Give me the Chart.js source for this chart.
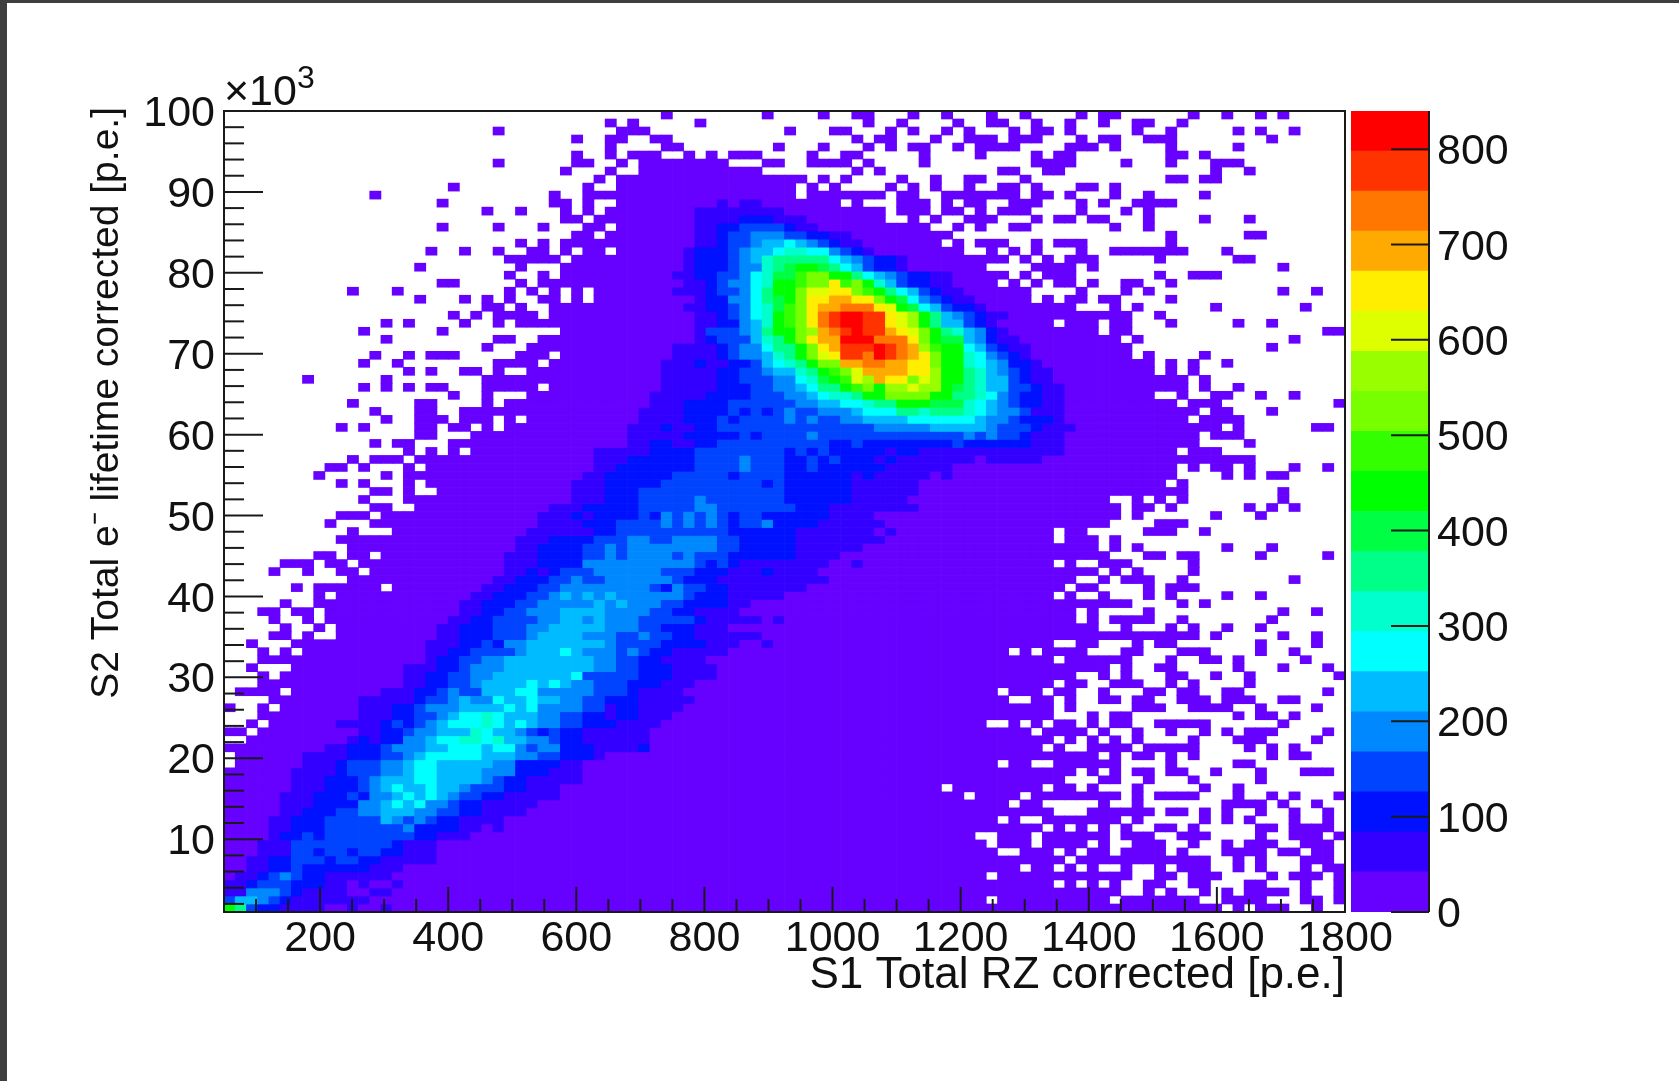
<!DOCTYPE html>
<html>
<head>
<meta charset="utf-8">
<title>S2 vs S1</title>
<script src="https://cdn.jsdelivr.net/npm/chart.js@4/dist/chart.umd.min.js"></script>
<style>
  html, body { margin: 0; padding: 0; width: 1679px; height: 1081px; overflow: hidden; background: #3f3f3f; }
  #papel { position: absolute; left: 7px; top: 3px; right: 0; bottom: 0; background: #fff; }
  .quadro { position: absolute; left: 0; top: 0; width: 1679px; height: 1081px; filter: blur(0.5px); }
</style>
</head>
<body>
<div id="papel"></div>
<div class="quadro"><canvas id="mapa"></canvas></div>
<div class="quadro"><canvas id="escala"></canvas></div>
<script>
// histogram axes
var xRange = [50, 1800];
var yRange = [1000, 100000];
var zRange = [0, 840];
var nBins = 100;

var xTicks = [200, 400, 600, 800, 1000, 1200, 1400, 1600, 1800];
var xMinorTicks = [100, 150, 250, 300, 350, 450, 500, 550, 650, 700, 750, 850, 900, 950, 1050, 1100, 1150, 1250, 1300, 1350, 1450, 1500, 1550, 1650, 1700, 1750];
var yTicks = [10000, 20000, 30000, 40000, 50000, 60000, 70000, 80000, 90000, 100000];
var yMinorTicks = [2000, 4000, 6000, 8000, 12000, 14000, 16000, 18000, 22000, 24000, 26000, 28000, 32000, 34000, 36000, 38000, 42000, 44000, 46000, 48000, 52000, 54000, 56000, 58000, 62000, 64000, 66000, 68000, 72000, 74000, 76000, 78000, 82000, 84000, 86000, 88000, 92000, 94000, 96000, 98000];
var zTicks = [0, 100, 200, 300, 400, 500, 600, 700, 800];

// colour bands, bottom of the palette first
var bandColors = ["#6600ff", "#3300ff", "#0011ff", "#0044ff", "#0088ff", "#00bbff", "#00ffff", "#00ffcc", "#00ff88", "#00ff44",
  "#00ff00", "#33ff00", "#77ff00", "#99ff00", "#ddff00", "#ffee00", "#ffaa00", "#ff7700", "#ff3300", "#ff0000"];

// one string per row of bins, top row first. "a-b" or "a" are x bins in band 0,
// "a:xyz" gives the bands (base 36) of the bins starting at a. Missing bins are empty.
var binRows = [
"39 48 53 56-57 61 64 68 71 76 78-79 86 89 92 94",
"34 36 42 57 60 65 68-69 72 75 78 81-82 85",
"24 35-37 50 54-55 59 61 64 66 70 72-73 75 81 84 90 92 95",
"31 34-35 38-39 56 58-59 63 66-68 70-72 76 78-79 82-84 93",
"34 39-40 49 53 57 59 61-62 65 67-70 75-77 79 84 90",
"31 34 36-38 41 43 45-47 52 55-56 62 67 72 74-75 84-85 87",
"24 31-32 35 37-44 48-49 52-55 57 62 72-75 80 84 88-90",
"30 34 37-47 56 58 69-70 73-74 88 91",
"33 35-51 53 55 60 63 66-67 71 84-85 87-88",
"20 32 35-50 52 54 59 61 63 66 69-70 72 76-77 79",
"13 29 32-50 52-58 60-61 64-70 72-73 75 79 82 87",
"19 29-30 32 35-43 44:1 45 46:11 48-54 56 60-62 64 66-67 70-72 76 78 81-84",
"23 26 30 32 34-41 42:11111111 50-58 60-62 64-65 67 69-71 76 80 82",
"30-31 33-41 42:1111 46:222 49:111 52-58 61 63 66-68 72 74-75 77-78 82 87 91",
"19 24 28 32-33 35-41 42:11 44:22 46:3333 50:2 51:11 53-62 65 67 70-71 79 82",
"31-32 34-41 42:11 44:2 45:33 47:444 50:33 52:22 54:11 56-64 84 91-92",
"26 28 30-41 42:11 44:2 45:33 47:4 48:55 50:6 51:5 52:4 53:3 54:2 55:11 57-63 65 67-69 72 74-76 84",
"18 21 24 27-28 30 32-33 35-40 41:1 42:222 45:3 46:4 47:55 49:6 50:77 52:66 54:4 55:3 56:2 57:1 58-65 68 70 72 76 79-85 89",
"25-29 31-40 41:1 42:222 45:3 46:4 47:5 48:7 49:88888 54:6 55:5 56:4 57:3 58:22 60:1 61-69 71 73 75-77 83 90-91",
"17 26 30-40 41:1 42:222 45:3 46:44 48:7 49:8 50:9 51:aa 53:9 54:8 55:6 56:5 57:3 58:22 60:1 61-67 72-75 77 94",
"25 28 30-39 40:11 42:22 44:33 46:4 47:6 48:7 49:99 51:b 52:cc 54:aa 56:8 57:6 58:5 59:4 60:3 61:22 63:11 65-69 71 73-75 83 86-88",
"19-20 26 28-40 41:11 43:2 44:3 45:44 47:6 48:7 49:aa 51:b 52:cc 54:f 55:b 56:c 57:a 58:7 59:5 60:3 61:22 63:11 65-68 70 72 74-75 77 80-81 84",
"11 15 25 27 29 31 33-39 40:111 43:2 44:3 45:3 46:4 47:6 48:8 49:aa 51:c 52:ee 54:ff 56:c 57:b 58:a 59:8 60:6 61:5 62:3 63:2 64:11 66-71 76 80 82 94 97",
"17 21 23 25 28-29 31 33-41 42:1 43:22 45:44 47:6 48:8 49:9 50:a 51:c 52:ff 54:gg 56:ff 58:c 59:a 60:9 61:6 62:4 63:3 64:2 65:11 67-71 73 75-76 78-79 84",
"23-24 26 29-40 41:11 43:22 45:3 46:4 47:6 48:7 49:9 50:b 51:c 52:f 53:gg 55:hhh 58:f 59:e 60:a 61:9 62:6 63:5 64:3 65:22 67:1 68-75 79 81 88 96",
"20 22 24-27 29-41 42:11 44:2 45:3 46:4 47:6 48:7 49:a 50:b 51:c 52:f 53:h 54:i 55:jj 57:ii 59:f 60:e 61:d 62:a 63:8 64:5 65:4 66:3 67:2 68:11 70-80 83",
"14 16 21 24 26-41 42:11 44:22 46:4 47:5 48:7 49:a 50:b 51:c 52:f 53:h 54:i 55:jj 57:ii 59:f 60:e 61:d 62:a 63:8 64:55 66:3 67:2 68:1 69-73 75-77 79-80 84 90 93",
"12 19 30-41 42:1 43:33 45:3 46:4 47:5 48:8 49:aa 51:c 52:d 53:g 54:h 55:i 56:j 57:ii 59:g 60:f 61:e 62:c 63:a 64:8 65:7 66:5 67:4 68:2 69:1 70-77 79-80 98-99",
"14 24-25 28-41 42:1 43:2 44:3 45:33 47:5 48:7 49:8 50:a 51:c 52:f 53:gg 55:jjj 58:hhh 61:f 62:c 63:a 64:99 66:5 67:4 68:2 69:11 71-79 81 95",
"23 27-39 40:111 43:1 44:2 45:3 46:44 48:6 49:88 51:a 52:c 53:f 54:g 55:iii 58:j 59:i 60:h 61:g 62:d 63:b 64:aa 66:6 67:5 68:3 69:2 70:11 72-80 93",
"13 16 18-20 26-28 30-39 40:111 43:1 44:2 45:3 46:44 48:5 49:7 50:8 51:a 52:c 53:e 54:f 55:ii 57:h 58:j 59:i 60:h 61:g 62:f 63:c 64:aa 66:7 67:6 68:4 69:3 70:2 71:1 72-80 82 87",
"12 15 24-27 29-38 39:111 42:2 43:11 45:22 47:3 48:5 49:6 50:7 51:8 52:a 53:cc 55:gg 57:hh 59:gg 61:ff 63:c 64:aa 66:7 67:6 68:5 69:4 70:22 72:1 73-82 84 86 89",
"16 18 21-22 24 27-38 39:11111 44:22 46:33 48:4 49:55 51:7 52:8 53:a 54:b 55:c 56:e 57:gggg 61:ff 63:d 64:aa 66:8 67:7 68:5 69:4 70:3 71:2 72:11 74-82 84 86",
"7 14 23-38 39:11111 44:22 46:333 49:44 51:6 52:7 53:9 54:a 55:b 56:e 57:d 58:g 59:ff 61:c 62:e 63:d 64:aa 66:8 67:7 68:55 70:3 71:2 72:11 74-85 87",
"12 14 16 18-19 23-27 29-38 39:11111 44:222 47:33 49:44 51:5 52:6 53:88 55:a 56:b 57:c 58:a 59:dd 61:e 62:dd 64:a 65:9 66:8 67:7 68:55 70:33 72:2 73:11 75-85 87 90",
"20 23 27-37 38:11111 43:222 46:2 47:33 49:3 50:44 52:5 53:6 54:77 56:8 57:aa 59:cccc 63:aa 65:88 67:7 68:6 69:4 70:3 71:22 73:11 75-82 85 88-89 92 95",
"11 17-18 23 25-37 38:111 41:2222 45:33333 50:3 51:44 53:55 55:66 57:7 58:88 60:aaa 63:999 66:7 67:6 68:5 69:4 70:3 71:22 73:11 75-84 86-88 99",
"13 17-18 21-36 37:1111 41:2222 45:3 46:2 47:3 48:2 49:3 50:4 51:33 53:444 56:5 57:666 60:88 62:7 63:888 66:7 67:6 68:5 69:44 71:3 72:111 75-86 88-89 93",
"14 17-19 21-23 25 27-36 37:1111 41:222 44:3 45:2 46:3333 50:4 51:3 52:4 53:33 55:44 57:5555 61:666666 67:5 68:44 70:3 71:222 74:1 75-85 87-90",
"10 12 17-18 20-21 23 25-35 36:111 39:2 40:11 42:22 44:33333333333333 58:44444 63:55555 68:4 69:333 72:2 73:111 76-88 90 97-98",
"17-18 22-35 36:11111 41:2 42:2222 46:3 47:2 48:3333 52:4 53:3333333333333 66:4 67:3 68:4 69:33 71:2 72:111 75-86 88-90",
"13 15-16 20-35 36:11 38:22 40:11 42:22 44:3333333333 54:22 56:3 57:22222222 65:3 66:222222 72:111 75-86 91",
"16 18 20 22-32 33:11111 38:2222 42:33333333 50:2 51:3 52:2 53:3 54:22222 59:1 60:22 62:1111111111111 75-84 86-88",
"11 13-15 17-32 33:111 36:222222 42:3333 46:4 47:333 50:22 52:3 53:2 54:3 55:222 58:1 59:2 60:1111111 67 68:11111 73-91",
"9-10 12 16 18-32 33:11 35:2222222 42:3333 46:4 47:333 50:22 52:3 53:222222 59:111111 65-84 86 88-89 91 95 98",
"8 14 16-31 32:11 34:222222 40:33333 45:2 46:3333 50:2222 54:22 56:1 57:2 58:11111 63 64:1 65-84 89 91 93-94",
"10 12 16 18-30 31:111 34:22222 39:333333333 48:2 49:3 50:222222 56:111111 62-83 85",
"13-14 16 19-30 31:111 34:222 37:3333333333333 50:222222 56:111111 62-85 94",
"12 16-30 31:111 34:222 37:33333 42:4 43:3333333 50:222222 56:11111 61-78 81 83 85 94",
"13-14 17-28 29:111 32:22222 37:33333 42:44 44:3333 48:333 51:222 54:11111111 62-79 81-82 84 91 93 95",
"10-12 14-27 28:111 31:2 32:1 33:2222 37:3 38:2 39:4 40:3 41:4 42:3 43:4 44:3 45:2 46:33 48:222222 54:1111 58-79 81 88 92",
"9 13-27 28:1111 32:222 35:3333 39:4 40:3 41:4 42:3 43:4 44:3 45:2 46:33 48:4 49:2222 53:111111 59-78 83-85",
"11 15-26 27:111111 33:22 35:3333333333 45:222222 51:1111111 58 59:1 60-73 75-76 82-84 87",
"10-25 26:111 29:2222 33:333 36:44 38:33 40:4444 44:33 46:22 48:222 51:11111111 59-73 75-77 79",
"11-25 26:11 28:2222 32:33 34:4 35:3 36:44444444 44:33 46:22 48:222 51:111111 57-77 79 81 89 93",
"8-9 11-12 14-24 25:111 28:2222 32:33 34:4 35:3 36:4444 40:3 41:4 42:333 45:222 48:222 51:1111 55-78 82-83 85-86 92 98",
"5-7 9-10 12-24 25:111 28:2222 32:4444444444 42:3 43:2 44:3 45:2 46:11 48:111111 54 55 56:1 57-73 75 78-80 86",
"4 7 10-11 13-24 25:11 27:2 28:1 29:2 30:333 33:444444 39:333 42:222 45:111 48:2 49:1111 53-77 79 81 86",
"11-23 24:11 26:222 29:33 31:4 32:33 34:444444 40:3 41:222 44:1111 48:111111 54-75 78 80-82 85 95",
"6 8-13 15-22 23:11 25:222 28:33 30:44444444 38:3 39:2 40:4 41:33 43:22 45:111 48:1111 52-74 76-77 82 84-86",
"8 10-21 22:11 24:222 27:33 29:4 30:5 31:4 32:5 33:4 34:5 35:444444 41:3 42:222 45:111 48:11 50-73 75 78 82 84 89 92",
"5 8-20 21:11 23:222 26:33 28:44444 33:5 34:4 35:5 36:444 39:33 41:2222 45:11 47-80 85 87",
"3-4 6-7 9-20 21:11 23:22 25:33 27:444 30:555 33:5 34:4444 38:33 40:22 42:1111 46-75 77 82 94 97",
"4 7 9-19 20:11 22:22 24:3333 28:44 30:55 32:4 33:5 34:444 37:33333 42:2 43:11111 48 49:1 50-75 77 79-82 85 93",
"5 8 10-18 19:11 21:222 24:333 27:44 29:55555 34:444 37:33 39:222 42:111 45-77 80 84 86 89 92",
"4-5 7 10-18 19:11 21:222 24:333 27:4 28:5555 32:444 35:33 37:4 38:33 40:22 42:111111 48-86 88 94 97",
"2 6-17 18:111 21:22 23:3 24:2 25:44 27:5555555 34:4 35:3333 39:2222 43:111 46 47 48:1 49-73 76-77 81 83-84 92 97",
"3 5 7-17 18:11 20:22 22:3333 26:4 27:555 30:6 31:5 32:444 35:3 36:4 37:3 38:22 40:11111 45-69 71 73-76 80-81 85-87 92 95",
"3-17 18:1 19:22 21:33 23:44 25:55555555 33:44 35:33 37:22 39:1111 43-73 75-80 84 87-88 90 96",
"2 6-15 16:111 19:22 21:3 22:444 25:55555555 33:44 35:33 37:222 40:1111 44-78 80 83-84 90 94 98",
"3 5-15 16:11 18:22 20:33 22:44 24:5555555 31:6 32:33333 37:222 40:1111 44-75 78 80 84-85 88 91 99",
"3-15 16:11 18:22 20:33 22:4 23:5555 27:6 28:5 29:6 30:5 31:44 33:333 36:222 39:111 42-73 75-76 79-81 84 86 91",
"1-4 6-13 14:111 17:22 19:3 20:4 21:33 23:555 26:66 28:44 30:444 33:333 36:2 37:1111 41-68 70-72 74-75 78 82-83 85-86 89-90 98",
"4-11 12:11111 17:2 18:33 20:4 21:5 22:44 24:6 25:55 27:6 28:55 30:44 32:33 34:22 36:2 37:11111 42-69 72-73 75 78-79 81-82 85-87 89-91 94-95",
"0 3 5-11 12:111 15:22 17:3 18:444 21:5555 25:6 26:5 27:6 28:4444 32:33 34:1 35:22 37:1111 41-73 75 81-83 86-89 92 97",
"3-11 12:111 15:22 17:33 19:4 20:5 21:66 23:7 24:6 25:555 28:44 30:33 32:22 34:1 35:22 37:111 40-73 77 79-80 90 92-93 95",
"2 4-9 10:1111 14:2 15:3 16:2 17:3 18:4 19:5 20:666 23:7 24:6 25:5 26:6 27:5 28:44 30:33 32:222 35:1111 39-67 70 72 74-75 77 79-80 83-87 94",
"0-1 3-11 12:11 14:22 16:3 17:44 19:555 22:7 23:6 24:55 26:4 27:3 28:2 29:3 30:22 32:111111 38-71 73-76 78 81 84 87 89 91-93 98",
"2-10 11:1 12:2 13:1 14:22 16:44 18:5 19:66 21:77 23:6 24:7 25:55 27:44 29:3 30:22 32:111111 38-73 75 77 79 81 86 90-92 97",
"0-8 9:11 11:222 14:3 15:444 18:55 20:666 23:5 24:66 26:4 27:3 28:44 30:222 33:1111 37:2 38-71 72 74 77-80 82-86 91 93 95",
"1-6 7:1111 11:222 14:33 16:4 17:5 18:66666 23:555 26:44 28:33 30:222 33:1 34-77 79 81-82 84 86 93 95-96",
"1-6 7:111 10:2 11:333 14:44 16:5 17:66 19:55555 24:44 26:2222 30:11 32-68 70-71 74-79 84 90-91",
"0-5 6:1111 10:2 11:333 14:44 16:5 17:66 19:5555 23:444 26:222 29:111 32-75 77 79 81-82 84-85 88 92 96-98",
"0-5 6:111 9:222 12:3 13:4 14:555 17:66 19:5 20:555 23:4 24:3 25:22 27:11111 32-74 78-79 82 86 92",
"0-5 6:111 9:222 12:3 13:4 14:5 15:6 16:55 18:6 19:55 21:4 22:333 25:22 27:111 30-63 65-72 74-75 77 81 87 90",
"0-4 5:111 8:222 11:3 12:2 13:44 15:5 16:6 17:5 18:6 19:5 20:4 21:33 23:22 25:11111 30-65 67-70 72-79 81 83-86 90 93 95 99",
"0-4 5:111 8:2222 12:44 14:5 15:6 16:5 17:6 18:44 20:3 21:22 23:11111 28-69 71-72 78 81 89-92 94 97",
"0-4 5:11 7:222 10:33 12:44 14:555 17:44 19:33 21:22 23:1111 27-73 77-82 84-85 87 89 92 95 98",
"0-3 4:11 6:222 9:33333 14:5 15:4 16:3 17:4 18:3 19:22 21:1111 25-68 70 73-79 81 87 89 91 95 98",
"0-3 4:11 6:222 9:3333333 16:4 17:2222 21:11 23 24:1 25-72 74 76 78 80 83-84 86 92-93 95-98",
"0-3 4:1 5:22 7:3 8:2 9:33333333 17:22 19:111 22-66 69-71 73-78 80-82 85-87 92 95-97 99",
"0-2 3:111 6:333333333 15:2 16:111 19-67 69-71 73-76 78 81-83 86 89 91-93 96-98",
"0-2 3:111 6:33 8:2 9:33 11:2 12:33 14:22 16:111 19-68 71-73 75 77-78 80-83 85 89-92 94-95 97-98",
"0-1 2:11 4:22 6:333 9:2 10:33 12:22 14:11111 19-74 76-87 90 92 96-98",
"0-1 2:11 4:22 6:3 7:222222 13:111 16-70 72-73 75 77 80 83 85-87 90 92 96 98-99",
"0 1:11 3:2 4:3 5:4 6:3 7:22 9:111111 15-67 69-80 83-84 86-88 93 95-97 99",
"0:11 2:2 3:333 6:222 9:11 11 12:1 13-14 15:1 16-73 75 77 79 82-83 86-87 91-92 96 99",
"0:11 2:444 5:3 6:2 7:1111 11-12 13:11 15-79 82 84 87 89 91-94 96 99",
"0:3 1:55 3:4 4:3 5:2 6:1111111 13-67 69-78 80-85 86 89-92 96-97 99",
"0:a 1:8 2:3 3:22 5:1111 9-10 11:1 12-13 14:1 15-88 90 92-94 97"
];

var xTitle = "S1 Total RZ corrected [p.e.]";
var yTitle = "S2 Total e\u207b lifetime corrected [p.e.]";

var fonte = "'Liberation Sans', Arial, sans-serif";
var corLinha = "#1a1a1a";

var xBin = (xRange[1] - xRange[0]) / nBins;
var yBin = (yRange[1] - yRange[0]) / nBins;
var zBand = (zRange[1] - zRange[0]) / bandColors.length;

// turns one row string into {bin: band}
function lerLinha(linha) {
  var bins = {};
  linha.split(" ").forEach(function (tok) {
    if (tok.indexOf(":") >= 0) {
      var p = tok.split(":");
      for (var i = 0; i < p[1].length; i++) {
        bins[Number(p[0]) + i] = parseInt(p[1][i], 36);
      }
    } else {
      var q = tok.split("-");
      var fim = q.length > 1 ? Number(q[1]) : Number(q[0]);
      for (var j = Number(q[0]); j <= fim; j++) {
        bins[j] = 0;
      }
    }
  });
  return bins;
}

function montarDatasets() {
  var datasets = [];
  for (var r = 0; r < binRows.length; r++) {
    var bins = lerLinha(binRows[r]);
    var baixo = yRange[1] - (r + 1) * yBin;
    var pontos = [];
    var cores = [];
    for (var c = 0; c < nBins; c++) {
      if (bins[c] === undefined) continue;
      pontos.push({ x: xRange[0] + (c + 0.5) * xBin, y: [baixo, baixo + yBin] });
      cores.push(bandColors[bins[c]]);
    }
    datasets.push({ data: pontos, backgroundColor: cores, borderWidth: 0 });
  }
  return datasets;
}

// ROOT style ticks go inwards from the axis, which the grid options can't do
function tracoX(ctx, chart, valores, tam) {
  var area = chart.chartArea;
  valores.forEach(function (v) {
    var x = chart.scales.x.getPixelForValue(v);
    ctx.beginPath();
    ctx.moveTo(x, area.bottom);
    ctx.lineTo(x, area.bottom - tam);
    ctx.stroke();
  });
}

function tracoY(ctx, chart, valores, tam, inicio, sentido) {
  valores.forEach(function (v) {
    var y = chart.scales.y.getPixelForValue(v);
    ctx.beginPath();
    ctx.moveTo(inicio, y);
    ctx.lineTo(inicio + sentido * tam, y);
    ctx.stroke();
  });
}

var molduraMapa = {
  id: "molduraMapa",
  afterDraw: function (chart) {
    var ctx = chart.ctx;
    var area = chart.chartArea;
    ctx.save();
    ctx.strokeStyle = corLinha;
    ctx.lineWidth = 2;
    ctx.strokeRect(area.left, area.top, area.right - area.left, area.bottom - area.top);
    tracoX(ctx, chart, xTicks, 25);
    tracoX(ctx, chart, xMinorTicks, 13);
    tracoY(ctx, chart, yTicks, 39, area.left, 1);
    tracoY(ctx, chart, yMinorTicks, 20, area.left, 1);

    // axis exponent
    ctx.fillStyle = "#111";
    ctx.textBaseline = "alphabetic";
    ctx.font = "43px " + fonte;
    ctx.fillText("\u00d710", 224, 105);
    ctx.font = "32px " + fonte;
    ctx.fillText("3", 297, 88);

    // y title starts a little above the frame, the scale title can't go past it
    ctx.translate(118, 107);
    ctx.rotate(-Math.PI / 2);
    ctx.textAlign = "right";
    ctx.font = "39px " + fonte;
    ctx.fillText(yTitle, 0, 0);
    ctx.restore();
  }
};

var molduraEscala = {
  id: "molduraEscala",
  afterDraw: function (chart) {
    var ctx = chart.ctx;
    var area = chart.chartArea;
    ctx.save();
    ctx.strokeStyle = corLinha;
    ctx.lineWidth = 2;
    ctx.beginPath();
    ctx.moveTo(area.right, area.top);
    ctx.lineTo(area.right, area.bottom);
    ctx.stroke();
    tracoY(ctx, chart, zTicks, 38, area.right, -1);
    ctx.restore();
  }
};

function plotarMapa() {
  var ctx = document.getElementById("mapa").getContext("2d");
  new Chart(ctx, {
    type: "bar",
    data: { datasets: montarDatasets() },
    plugins: [molduraMapa],
    options: {
      responsive: false,
      animation: false,
      events: [],
      layout: { padding: { left: 0, right: 334, top: 111, bottom: 0 } },
      plugins: { legend: { display: false }, tooltip: { enabled: false } },
      datasets: { bar: { grouped: false, barPercentage: 1, categoryPercentage: 1 } },
      scales: {
        x: {
          type: "linear",
          offset: false,
          min: xRange[0],
          max: xRange[1],
          afterBuildTicks: function (s) { s.ticks = xTicks.map(function (v) { return { value: v }; }); },
          afterFit: function (s) { s.height = 169; },
          grid: { display: false },
          border: { display: false },
          ticks: {
            autoSkip: false,
            maxRotation: 0,
            padding: -7,
            color: "#111",
            font: { family: fonte, size: 43 },
            callback: function (v) { return String(v); }
          },
          title: {
            display: true,
            text: xTitle,
            align: "end",
            color: "#111",
            font: { family: fonte, size: 44 },
            padding: { top: 0, bottom: 79 }
          }
        },
        y: {
          min: yRange[0],
          max: yRange[1],
          afterBuildTicks: function (s) { s.ticks = yTicks.map(function (v) { return { value: v }; }); },
          afterFit: function (s) { s.width = 224; },
          grid: { display: false },
          border: { display: false },
          ticks: {
            autoSkip: false,
            padding: 1,
            color: "#111",
            // empty first line: pushes the number down so it centres on its tick
            font: { family: fonte, size: 43, lineHeight: "6.5px" },
            callback: function (v) { return ["", String(v / 1000)]; }
          }
        }
      }
    }
  });
}

function plotarEscala() {
  var datasets = [];
  for (var i = 0; i < bandColors.length; i++) {
    datasets.push({ data: [zBand], backgroundColor: bandColors[i], borderWidth: 0 });
  }

  var ctx = document.getElementById("escala").getContext("2d");
  new Chart(ctx, {
    type: "bar",
    data: { labels: [""], datasets: datasets },
    plugins: [molduraEscala],
    options: {
      responsive: false,
      animation: false,
      events: [],
      layout: { padding: { left: 1351, right: 0, top: 111, bottom: 169 } },
      plugins: { legend: { display: false }, tooltip: { enabled: false } },
      datasets: { bar: { barPercentage: 1, categoryPercentage: 1 } },
      scales: {
        x: { stacked: true, display: false },
        y: {
          stacked: true,
          position: "right",
          min: zRange[0],
          max: zRange[1],
          afterBuildTicks: function (s) { s.ticks = zTicks.map(function (v) { return { value: v }; }); },
          afterFit: function (s) { s.width = 250; },
          grid: { display: false },
          border: { display: false },
          ticks: {
            autoSkip: false,
            padding: 0,
            color: "#111",
            font: { family: fonte, size: 43, lineHeight: "6.5px" },
            callback: function (v) { return ["", String(v)]; }
          }
        }
      }
    }
  });
}

document.getElementById("mapa").width = 1679;
document.getElementById("mapa").height = 1081;
document.getElementById("escala").width = 1679;
document.getElementById("escala").height = 1081;

plotarMapa();
plotarEscala();
</script>
</body>
</html>
